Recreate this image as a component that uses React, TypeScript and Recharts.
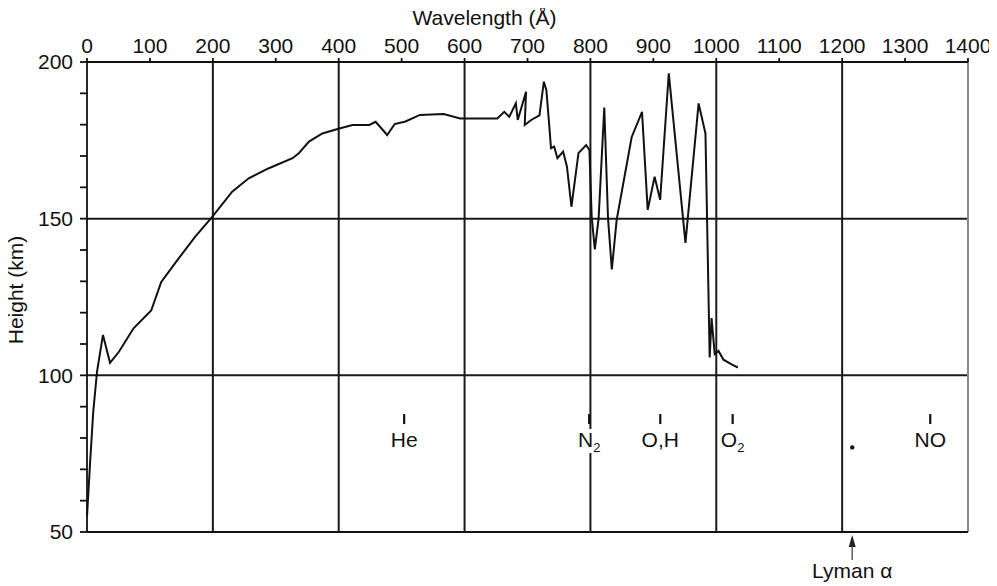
import React from 'react';
import { ComposedChart, Line, XAxis, YAxis, ReferenceLine, Scatter, ReferenceDot } from 'recharts';

// Wavelength (Å) and height (km) of unit optical depth
const wavelengths = [
  0, 5, 10, 16, 25.4, 36.6, 51, 74, 102, 118, 144.5, 172, 198, 230.7, 257, 289, 326.6, 336.6, 352.8, 374,
  401, 422, 448.6, 458.7, 477, 489, 506, 529, 566.7, 593, 627, 652, 663, 671, 681.5, 684.5, 697.7, 695.6,
  705.8, 719, 726, 730, 734.3, 737.3, 742.4, 747.6, 756.6, 762.7, 769.8, 781, 793.2, 798.4, 802, 807, 813, 822,
  828, 834, 841.7, 865.5, 882, 891, 902, 910.8, 924.5, 951, 971.9, 982.8, 989.5, 992.5, 997.5, 1003.5, 1011.4, 1024.4, 1034.4,
];
const heights = [
  55, 72.4, 88.6, 101.3, 112.9, 104, 107.6, 115, 120.7, 129.8, 137, 144.3, 150.3, 158.6, 162.9, 166.1, 169.3, 170.9, 174.6, 177.2,
  178.8, 179.9, 179.9, 180.9, 176.7, 180.2, 181, 183.1, 183.4, 182, 182, 182, 184.1, 182.5, 186.8, 181.5, 190.5, 179.9,
  181.5, 183, 193.7, 191, 180.4, 172.5, 173, 169.3, 171.4, 166.6, 153.8, 170.9, 173.5, 171.9, 150.6, 140.2, 150, 185.5,
  150, 133.8, 149.6, 176, 184.1, 152.8, 163.4, 156, 196.4, 142.3, 186.8, 177.2, 105.7, 118.3, 106.8, 107.8, 105, 103.5, 102.5,
];

const xTicks = [0, 100, 200, 300, 400, 500, 600, 700, 800, 900, 1000, 1100, 1200, 1300, 1400];
const yTicks = [50, 60, 70, 80, 90, 100, 110, 120, 130, 140, 150, 160, 170, 180, 190, 200];
const xGrid = [200, 400, 600, 800, 1000, 1200];
const yGrid = [100, 150];

const speciesNames = ['He', 'N', 'O,H', 'O', 'NO'];
const speciesSubs = ['', '2', '', '2', ''];
const speciesWavelengths = [504, 798, 911, 1026, 1340];

const lymanAlpha = 1216;
const LABEL_KM = 87;
const DOT_KM = 77;

const curve = wavelengths.map((x, i) => ({ x, y: heights[i] }));
const species = speciesNames.map((name, i) => ({ x: speciesWavelengths[i], y: LABEL_KM, name, sub: speciesSubs[i] }));

const FONT = 'Liberation Sans, Arial, Helvetica, sans-serif';
const FS = 21;
const INK = '#111';

const SpeciesShape = (props: any) => {
  const { cx, cy, payload } = props;
  const w = payload.name.length * 14 + (payload.sub ? 8 : 0) + 4;
  return (
    <g>
      <line x1={cx} x2={cx} y1={cy - 2} y2={cy + 8} stroke={INK} strokeWidth={2.2} />
      <rect x={cx - w / 2} y={cy + 13} width={w} height={24} fill="#fff" />
      <text x={cx} y={cy + 31} textAnchor="middle" fontFamily={FONT} fontSize={FS} fill={INK}>
        {payload.name}
        {payload.sub ? <tspan dy={5} fontSize={13}>{payload.sub}</tspan> : null}
      </text>
    </g>
  );
};

const LymanTick = (props: any) => {
  const { x, y, payload } = props;
  if (payload.value !== lymanAlpha) return null;
  return (
    <g>
      <polygon points={`${x},${y + 3} ${x - 3.5},${y + 15} ${x + 3.5},${y + 15}`} fill="#222" />
      <line x1={x} x2={x} y1={y + 14} y2={y + 28} stroke="#444" strokeWidth={1.3} />
      <text x={x} y={y + 46} textAnchor="middle" fontFamily={FONT} fontSize={FS} fill={INK}>Lyman α</text>
    </g>
  );
};

export default function App() {
  return (
    <div style={{ margin: '-8px 0 0 -8px', background: '#fff', width: 997, height: 586 }}>
      <ComposedChart width={997} height={586} data={curve} margin={{ top: 0, right: 29, bottom: 0, left: 0 }}>
        <XAxis
          xAxisId="top"
          orientation="top"
          type="number"
          dataKey="x"
          domain={[0, 1400]}
          ticks={xTicks}
          height={62}
          tickSize={4}
          tickMargin={5}
          stroke={INK}
          strokeWidth={1.8}
          tick={{ fill: INK, fontSize: FS, fontFamily: FONT }}
          interval={0}
          label={{
            content: (p: any) => (
              <text
                x={p.viewBox.x + p.viewBox.width / 2 - 43}
                y={p.viewBox.y + 25}
                textAnchor="middle"
                fontFamily={FONT}
                fontSize={FS}
                fill={INK}
              >
                Wavelength (Å)
              </text>
            ),
          }}
        />
        <XAxis
          xAxisId="bottom"
          orientation="bottom"
          type="number"
          dataKey="x"
          domain={[0, 1400]}
          ticks={[lymanAlpha]}
          height={54}
          tickSize={0}
          tickMargin={0}
          stroke={INK}
          strokeWidth={2.2}
          tick={<LymanTick />}
          interval={0}
        />
        <YAxis
          type="number"
          domain={[50, 200]}
          ticks={yTicks}
          width={87}
          tickSize={7}
          tickMargin={7}
          stroke={INK}
          strokeWidth={1.8}
          interval={0}
          tick={{ fill: INK, fontSize: FS, fontFamily: FONT }}
          tickFormatter={(v: number) => (v % 50 === 0 ? String(v) : '')}
          label={{
            content: (p: any) => {
              const cx = 17;
              const cy = p.viewBox.y + p.viewBox.height / 2 - 7;
              return (
                <text
                  x={cx}
                  y={cy}
                  transform={`rotate(-90 ${cx} ${cy})`}
                  textAnchor="middle"
                  dominantBaseline="middle"
                  fontFamily={FONT}
                  fontSize={FS}
                  fill={INK}
                >
                  Height (km)
                </text>
              );
            },
          }}
        />
        {xGrid.map((v) => (
          <ReferenceLine key={'gx' + v} xAxisId="top" x={v} stroke="#1a1a1a" strokeWidth={2} />
        ))}
        {yGrid.map((v) => (
          <ReferenceLine key={'gy' + v} xAxisId="top" y={v} stroke="#1a1a1a" strokeWidth={2} />
        ))}
        <ReferenceLine xAxisId="top" x={1400} stroke="#888" strokeWidth={2} />
        <Scatter
          xAxisId="bottom"
          data={species}
          dataKey="y"
          shape={<SpeciesShape />}
          isAnimationActive={false}
        />
        <ReferenceDot xAxisId="top" x={lymanAlpha} y={DOT_KM} r={2.2} fill={INK} stroke="none" />
        <Line
          xAxisId="top"
          type="linear"
          dataKey="y"
          stroke={INK}
          strokeWidth={2}
          dot={false}
          isAnimationActive={false}
        />
      </ComposedChart>
    </div>
  );
}
